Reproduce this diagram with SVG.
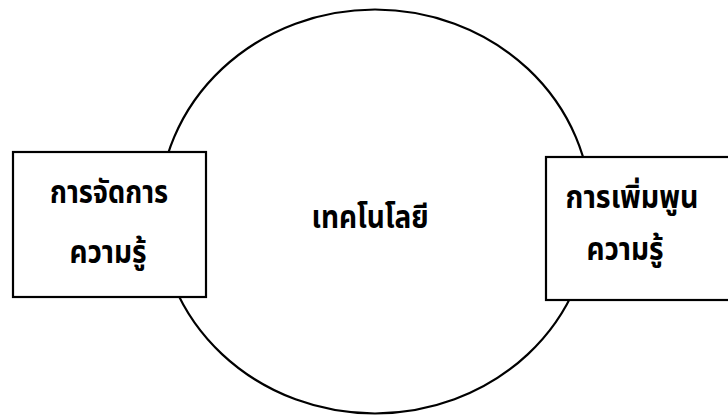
<svg xmlns="http://www.w3.org/2000/svg" width="728" height="416" viewBox="0 0 728 416">
<style>
.shape{fill:#fff;stroke:#000;stroke-width:2.2}
.t{font-family:"Noto Sans Thai","Noto Sans","DejaVu Sans",sans-serif;font-weight:bold;font-size:28px;text-anchor:middle;fill:#000}
</style>
<rect width="728" height="416" fill="#fff"/>
<g id="technology">
<ellipse class="shape" cx="375" cy="211.5" rx="216" ry="202"/>
<text class="t" transform="translate(370,228) scale(1,1.12)">เทคโนโลยี</text>
</g>
<g id="knowledge-management">
<rect class="shape" x="13" y="152" width="193" height="145"/>
<text class="t" transform="translate(109,203) scale(0.97,1.12)">การจัดการ</text>
<text class="t" transform="translate(108,263) scale(1,1.12)">ความรู้</text>
</g>
<g id="knowledge-enhancement">
<rect class="shape" x="546" y="157" width="190" height="143"/>
<text class="t" transform="translate(632,208) scale(1.02,1.12)">การเพิ่มพูน</text>
<text class="t" transform="translate(625,260) scale(1,1.12)">ความรู้</text>
</g>
<g id="connectors"></g>
</svg>
